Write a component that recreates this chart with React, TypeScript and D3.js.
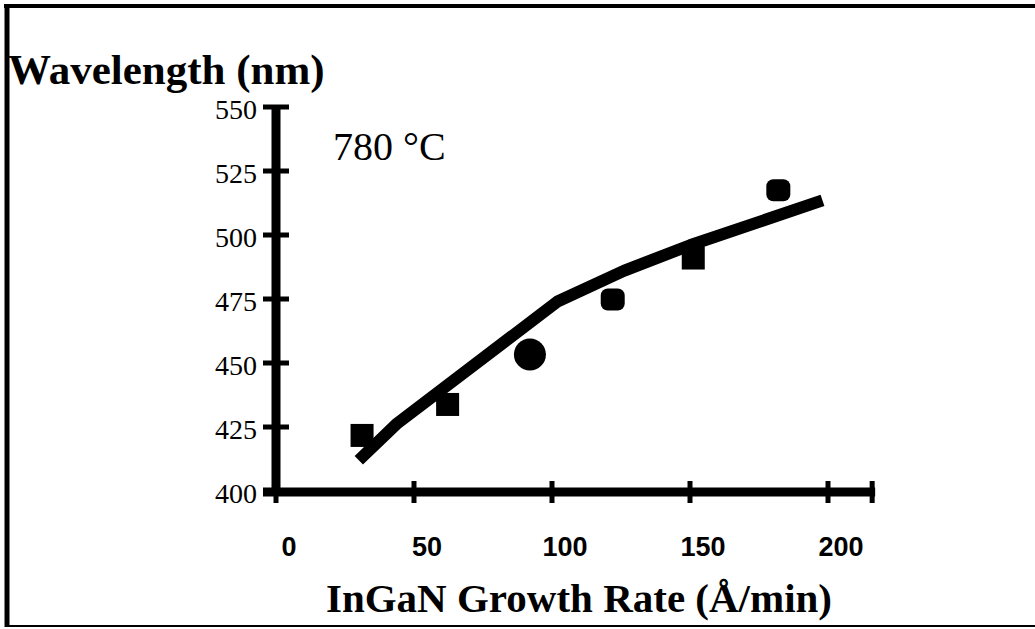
import React from "react";
import * as d3 from "d3";

const xTicks = [0, 50, 100, 150, 200];
const yTicks = [400, 425, 450, 475, 500, 525, 550];
const growthRate = [31, 62, 92, 122, 151, 182];
const wavelength = [421.9, 434, 453.3, 474.8, 491.2, 517.5];
const markerKinds = ["square", "square", "circle", "round", "square", "round"];
const fitX = [30, 44, 102, 126, 150, 198];
const fitY = [412, 426.5, 474, 486, 496, 513.5];

const W = 1035;
const H = 629;

export default function App() {
  const x = d3.scaleLinear().domain([0, 200]).range([276, 828]);
  const y = d3.scaleLinear().domain([400, 550]).range([491, 107]);
  const xEnd = 216;

  const fitPts: [number, number][] = fitX.map((v, i) => [v, fitY[i]]);
  const line = d3
    .line<[number, number]>()
    .x((d) => x(d[0]))
    .y((d) => y(d[1]));

  const serif = "'Liberation Serif', 'Times New Roman', serif";
  const sans = "'Liberation Sans', Arial, sans-serif";

  return (
    <svg
      width={W}
      height={H}
      viewBox={`0 0 ${W} ${H}`}
      style={{ position: "absolute", left: 0, top: 0, background: "#fff" }}
    >
      <rect x={0} y={0} width={W} height={H} fill="#fff" />
      {/* frame */}
      <line x1={4} x2={W} y1={6} y2={6} stroke="#000" strokeWidth={4} />
      <line x1={7} x2={7} y1={4} y2={627} stroke="#000" strokeWidth={5} />
      <line x1={5} x2={W} y1={626} y2={626} stroke="#000" strokeWidth={2} />

      {/* titles */}
      <text x={8} y={84} fontFamily={serif} fontWeight="bold" fontSize={43} fill="#000">
        Wavelength (nm)
      </text>
      <text x={333} y={160} fontFamily={serif} fontSize={40} fill="#000">
        780 °C
      </text>
      <text
        x={579}
        y={612}
        textAnchor="middle"
        fontFamily={serif}
        fontWeight="bold"
        fontSize={41}
        fill="#000"
      >
        InGaN Growth Rate (Å/min)
      </text>

      {/* y axis */}
      <line x1={x(0)} x2={x(0)} y1={y(550) - 2} y2={y(400) + 4} stroke="#000" strokeWidth={9} />
      {yTicks.map((t) => (
        <g key={"yt" + t}>
          <line x1={x(0) - 13} x2={x(0) + 13} y1={y(t)} y2={y(t)} stroke="#000" strokeWidth={5} />
          <text
            x={257}
            y={y(t) + 12}
            textAnchor="end"
            fontFamily={serif}
            fontSize={28}
            fill="#000"
          >
            {t}
          </text>
        </g>
      ))}

      {/* x axis */}
      <line x1={x(0) - 13} x2={x(xEnd) + 3} y1={y(400) + 1} y2={y(400) + 1} stroke="#000" strokeWidth={9} />
      {[...xTicks, xEnd].map((t) => (
        <line
          key={"xt" + t}
          x1={x(t)}
          x2={x(t)}
          y1={y(400) - 10}
          y2={y(400) + 12}
          stroke="#000"
          strokeWidth={5}
        />
      ))}
      {xTicks.map((t) => (
        <text
          key={"xl" + t}
          x={x(t) + 13}
          y={556}
          textAnchor="middle"
          fontFamily={sans}
          fontWeight="bold"
          fontSize={27}
          fill="#000"
        >
          {t}
        </text>
      ))}

      {/* markers */}
      {growthRate.map((g, i) => {
        const cx = x(g);
        const cy = y(wavelength[i]);
        const k = markerKinds[i];
        if (k === "circle") return <circle key={"m" + i} cx={cx} cy={cy} r={16} fill="#000" />;
        if (k === "round")
          return <rect key={"m" + i} x={cx - 12} y={cy - 11} width={24} height={22} rx={7} fill="#000" />;
        return <rect key={"m" + i} x={cx - 11} y={cy - 11} width={23} height={23} fill="#000" />;
      })}

      {/* fit line */}
      <path
        d={line(fitPts) || ""}
        fill="none"
        stroke="#000"
        strokeWidth={12}
        strokeLinejoin="round"
        strokeLinecap="butt"
      />
    </svg>
  );
}
